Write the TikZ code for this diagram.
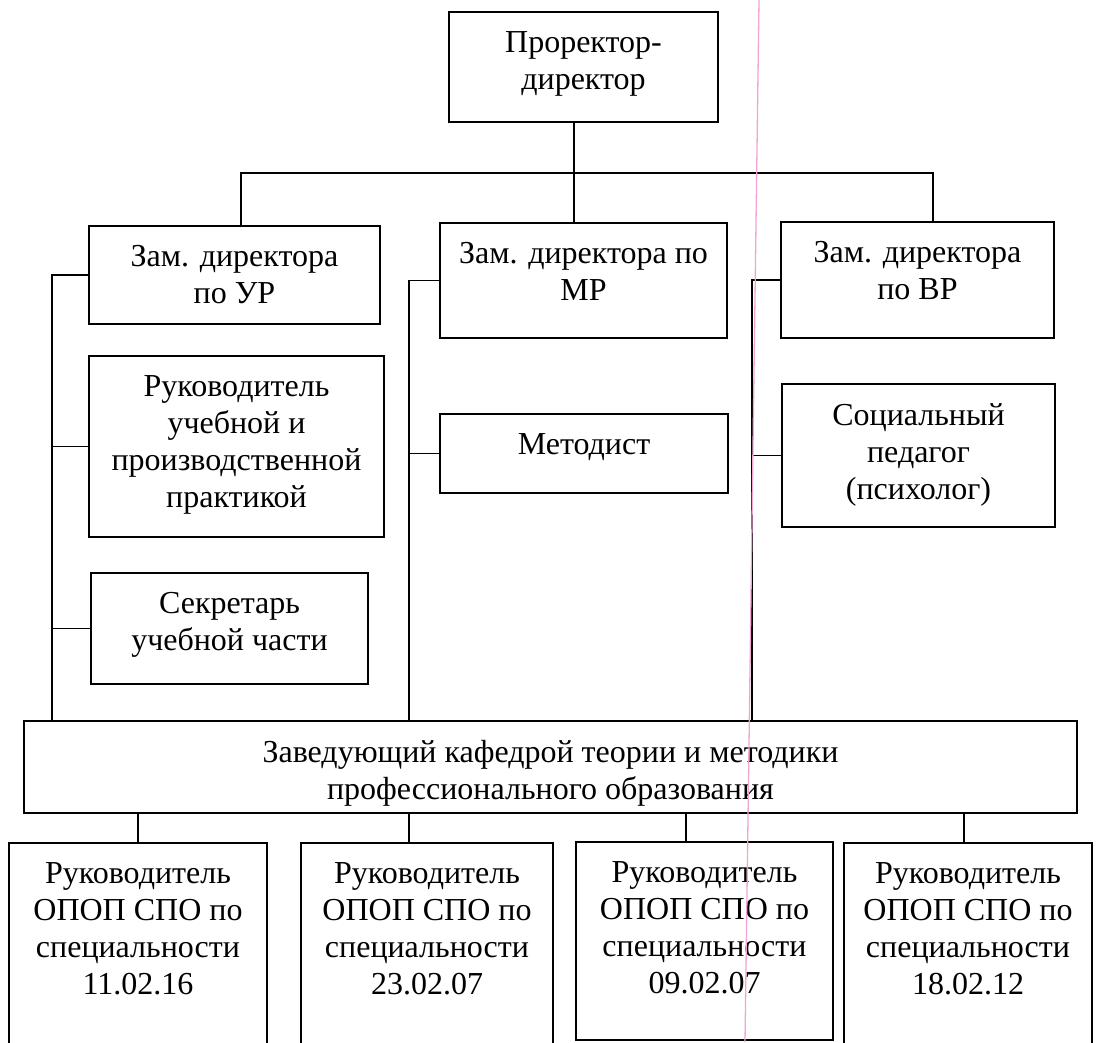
\documentclass[tikz,border=0pt]{standalone}
\usepackage{fontspec}
\setmainfont{Liberation Serif}
\usepackage{tikz}
\newcommand{\BoxFont}{\fontsize{32}{37}\selectfont}
\definecolor{scanpink}{RGB}{240,165,210}
\tikzset{
  box/.style 2 args={draw, line width=1.5pt, minimum width=#1, minimum height=#2, inner sep=0pt},
  lbl/.style={anchor=north, yshift=-20pt, align=center, inner sep=0pt, font=\BoxFont},
  link/.style={line width=1.3pt}
}

\begin{document}
\begin{tikzpicture}[x=1pt, y=-1pt]
\path[use as bounding box, clip] (0,0) rectangle (1097,1042);

\node[box={269pt}{110pt}, label={[lbl]north:{Проректор-\\директор}}] (top) at (583.5,67) {};

\node[box={291pt}{98pt}, label={[lbl]north:{Зам. директора\\по УР}}] (ur) at (234.5,275) {};
\node[box={287pt}{115pt}, label={[lbl]north:{Зам. директора по\\МР}}] (mr) at (583.5,280.5) {};
\node[box={273pt}{116pt}, label={[lbl]north:{Зам. директора\\по ВР}}] (vr) at (917.5,280) {};

\node[box={295pt}{181pt}, label={[lbl]north:{Руководитель\\учебной и\\производственной\\практикой}}] (prak) at (236.5,446.5) {};
\node[box={277pt}{111pt}, label={[lbl]north:{Секретарь\\учебной части}}] (sekr) at (229.5,628.5) {};
\node[box={288pt}{79pt}, label={[lbl]north:{Методист}}] (metod) at (584,453.5) {};
\node[box={273pt}{143pt}, label={[lbl]north:{Социальный\\педагог\\(психолог)}}] (soc) at (918.5,455.5) {};

\node[box={1053pt}{92pt}, label={[lbl]north:{Заведующий кафедрой теории и методики\\профессионального образования}}] (zav) at (550.5,767) {};

\node[box={258pt}{205pt}, label={[lbl]north:{Руководитель\\ОПОП СПО по\\специальности\\11.02.16}}] (b1) at (138,945.5) {};
\node[box={252pt}{205pt}, label={[lbl]north:{Руководитель\\ОПОП СПО по\\специальности\\23.02.07}}] (b2) at (427,945.5) {};
\node[box={257pt}{198pt}, label={[lbl]north:{Руководитель\\ОПОП СПО по\\специальности\\09.02.07}}] (b3) at (704.5,941) {};
\node[box={248pt}{205pt}, label={[lbl]north:{Руководитель\\ОПОП СПО по\\специальности\\18.02.12}}] (b4) at (968,945.5) {};

\coordinate (busL) at (241,173);
\coordinate (busR) at (933,173);
\coordinate (spL) at (52,270);
\coordinate (spM) at (409,283);
\coordinate (spR) at (752,283);

\draw[link] ([xshift=-9.5pt]top.south) -- ([xshift=-9.5pt]mr.north);
\draw[link] (busL |- ur.north) -- (busL) -- (busR) -- (busR |- vr.north);

\draw[link] (ur.west) -| (spL |- zav.north);
\draw[link] (prak.west) -- (prak.west -| spL);
\draw[link] (sekr.west) -- (sekr.west -| spL);

\draw[link] (mr.west) -| (spM |- zav.north);
\draw[link] (metod.west) -- (metod.west -| spM);

\draw[link] (vr.west) -| (spR |- zav.north);
\draw[link] (soc.west) -- (soc.west -| spR);

\draw[link] (b1.north) -- (b1.north |- zav.south);
\draw[link] ([xshift=-18pt]b2.north) -- ([xshift=-18pt]b2.north |- zav.south);
\draw[link] ([xshift=-18.5pt]b3.north) -- ([xshift=-18.5pt]b3.north |- zav.south);
\draw[link] ([xshift=-4pt]b4.north) -- ([xshift=-4pt]b4.north |- zav.south);

\draw[scanpink, line width=1.3pt] (759,0) -- (745,1042);

\end{tikzpicture}
\end{document}
